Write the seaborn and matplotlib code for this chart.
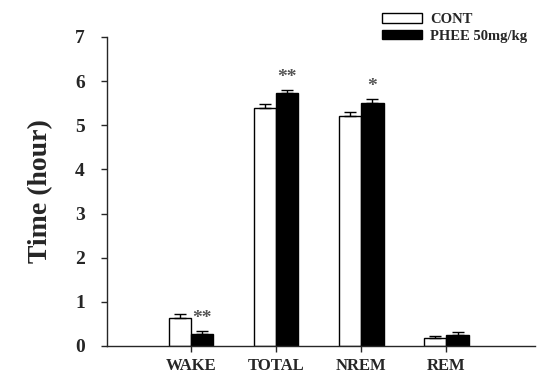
import numpy as np
import pandas as pd
import matplotlib
matplotlib.use("Agg")
import matplotlib.pyplot as plt
import seaborn as sns
from matplotlib.patches import Patch

categories = ["WAKE", "TOTAL", "NREM", "REM"]
groups = ["CONT", "PHEE 50mg/kg"]
cont_vals = [0.63, 5.38, 5.20, 0.19]
cont_err = [0.09, 0.10, 0.11, 0.03]
phee_vals = [0.28, 5.73, 5.51, 0.25]
phee_err = [0.05, 0.06, 0.08, 0.06]
phee_sig = ["**", "**", "*", ""]

sns.set_style("ticks")
plt.rcParams['font.family'] = ['Liberation Serif', 'DejaVu Serif']
plt.rcParams['font.weight'] = 'bold'

df = pd.DataFrame({
    "cat": categories * 2,
    "group": [groups[0]] * 4 + [groups[1]] * 4,
    "val": cont_vals + phee_vals,
})

fig = plt.figure(figsize=(5.39, 3.78), dpi=100)
ax = fig.add_axes([0.1985, 0.0847, 0.794, 0.8175])

sns.barplot(data=df, x="cat", y="val", hue="group", order=categories,
            hue_order=groups, palette=["white", "black"], width=0.52,
            edgecolor="black", linewidth=1.0, errorbar=None, ax=ax,
            legend=False)

bw = 0.26
x = np.arange(len(categories))
for off, vals, errs in [(-bw / 2, cont_vals, cont_err), (bw / 2, phee_vals, phee_err)]:
    ax.errorbar(x + off, vals, yerr=[np.zeros(len(vals)), errs], fmt="none",
                ecolor="black", elinewidth=1.0, capsize=4, capthick=1.0, zorder=5)

for i, s in enumerate(phee_sig):
    if s:
        ax.text(x[i] + bw / 2, phee_vals[i] + phee_err[i] + 0.1, s,
                ha="center", va="bottom", fontsize=14, color="#555555",
                fontweight="bold")

ax.set_xlim(-0.99, 4.04)
ax.set_ylim(0, 7)
ax.set_yticks(range(8))
ax.set_xlabel("")
ax.set_ylabel("Time (hour)", fontsize=20, fontweight="bold", labelpad=16)
ax.tick_params(axis="both", labelsize=14, direction="out", length=4, width=1)
ax.tick_params(axis="y", pad=12)
ax.tick_params(axis="x", pad=5, labelsize=12)
for lab in ax.get_xticklabels() + ax.get_yticklabels():
    lab.set_fontweight("bold")
sns.despine(ax=ax)
ax.spines["left"].set_linewidth(1)
ax.spines["bottom"].set_linewidth(1)

handles = [Patch(facecolor="white", edgecolor="black", label=groups[0]),
           Patch(facecolor="black", edgecolor="black", label=groups[1])]
fig.legend(handles=handles, loc="upper left", bbox_to_anchor=(0.685, 1.0),
           frameon=False, handlelength=2.7, handleheight=0.6,
           handletextpad=0.6, labelspacing=0.25, prop={"weight": "bold", "size": 10.5})

fig.savefig("out.png", dpi=100)
